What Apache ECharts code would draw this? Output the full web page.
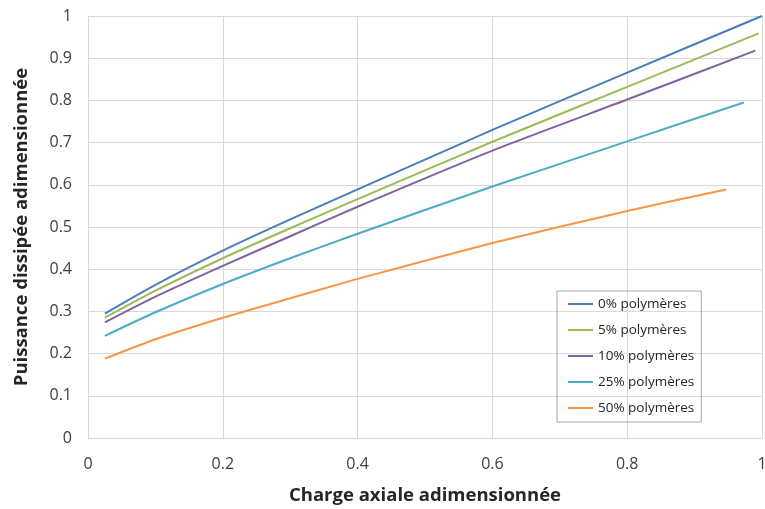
<!DOCTYPE html>
<html><head><meta charset="utf-8">
<script src="https://cdn.jsdelivr.net/npm/echarts@6/dist/echarts.min.js"></script>
<style>html,body{margin:0;padding:0;background:#fff}#c{width:765px;height:509px}</style>
</head><body><div id="c"></div>
<script>
var seriesNames = ['0% polymères', '5% polymères', '10% polymères', '25% polymères', '50% polymères'];
var x0 = [0.025, 0.1, 0.2, 0.3, 0.4, 0.6, 0.8, 1.0];
var y0 = [0.295, 0.363, 0.444, 0.518, 0.589, 0.730, 0.866, 1.0];
var x5 = [0.025, 0.1, 0.2, 0.3, 0.4, 0.6, 0.8, 0.995];
var y5 = [0.285, 0.349, 0.426, 0.497, 0.566, 0.702, 0.832, 0.959];
var x10 = [0.025, 0.1, 0.2, 0.3, 0.4, 0.6, 0.8, 0.99];
var y10 = [0.274, 0.335, 0.408, 0.478, 0.548, 0.681, 0.802, 0.918];
var x25 = [0.025, 0.1, 0.2, 0.3, 0.4, 0.6, 0.8, 0.973];
var y25 = [0.242, 0.298, 0.365, 0.426, 0.484, 0.596, 0.703, 0.795];
var x50 = [0.025, 0.1, 0.2, 0.3, 0.4, 0.6, 0.8, 0.947];
var y50 = [0.188, 0.234, 0.285, 0.331, 0.377, 0.462, 0.538, 0.589];
var xs = [x0, x5, x10, x25, x50];
var ys = [y0, y5, y10, y25, y50];
var colors = ['#4A7EBB', '#9BBB59', '#8064A2', '#4BACC6', '#F79646'];
var xTitle = 'Charge axiale adimensionnée';
var yTitle = 'Puissance dissipée adimensionnée';

function pairs(a, b) { return a.map(function (v, i) { return [v, b[i]]; }); }
var font = 'Open Sans';
var chart = echarts.init(document.getElementById('c'));
chart.setOption({
  animation: false,
  grid: { left: 88, right: 3, top: 16, bottom: 71, containLabel: false, outerBoundsMode: 'none' },
  xAxis: {
    type: 'value', min: 0, max: 1, interval: 0.2,
    axisLine: { show: true, lineStyle: { color: '#d9d9d9' } },
    axisTick: { show: false },
    splitLine: { show: true, lineStyle: { color: '#d9d9d9', width: 1 } },
    axisLabel: { color: '#404040', fontSize: 16, fontFamily: font, margin: 18,
      formatter: function (v) { return String(+v.toFixed(1)); } },
    name: xTitle, nameLocation: 'middle', nameGap: 48,
    nameTextStyle: { color: '#262626', fontSize: 18.5, fontWeight: 'bold', fontFamily: font }
  },
  yAxis: {
    type: 'value', min: 0, max: 1, interval: 0.1,
    axisLine: { show: true, lineStyle: { color: '#d9d9d9' } },
    axisTick: { show: false },
    splitLine: { show: true, lineStyle: { color: '#d9d9d9', width: 1 } },
    axisLabel: { color: '#404040', fontSize: 16, fontFamily: font, margin: 16,
      formatter: function (v) { return String(+v.toFixed(1)); } },
    name: yTitle, nameLocation: 'middle', nameGap: 57, nameRotate: 90,
    nameTextStyle: { color: '#262626', fontSize: 18.5, fontWeight: 'bold', fontFamily: font }
  },
  legend: {
    orient: 'vertical', left: 557, top: 291,
    itemWidth: 25, itemHeight: 2, itemGap: 10, icon: 'rect',
    borderColor: '#a6a6a6', borderWidth: 1, borderRadius: 0,
    padding: [5, 7, 6, 11],
    textStyle: { color: '#262626', fontSize: 13.5, fontFamily: font, lineHeight: 16 },
    data: seriesNames
  },
  series: seriesNames.map(function (n, i) {
    return {
      name: n, type: 'line', data: pairs(xs[i], ys[i]),
      showSymbol: false, symbol: 'none', smooth: 0.2,
      lineStyle: { color: colors[i], width: 2 },
      itemStyle: { color: colors[i] }
    };
  })
});
</script></body></html>
